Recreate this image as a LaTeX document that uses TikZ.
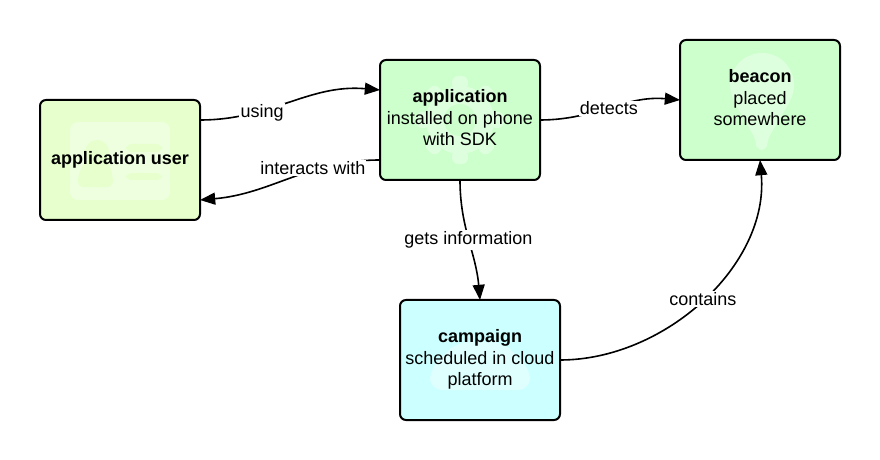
\documentclass[tikz,border=0pt]{standalone}
\usepackage{fontspec}
\setmainfont{Liberation Sans}
\usetikzlibrary{positioning, arrows.meta, calc}

\definecolor{usergreen}{HTML}{E6FFCC}
\definecolor{appgreen}{HTML}{CCFFCC}
\definecolor{cloudblue}{HTML}{CCFFFF}
\definecolor{userpale}{HTML}{EEFFDF}
\definecolor{apppale}{HTML}{DDFFDD}
\definecolor{cloudpale}{HTML}{DFFFFF}
\newcommand{\lastline}{\rule[-2.9pt]{0pt}{0pt}}

\tikzset{
    box/.style={draw=black, line width=0.05cm, rounded corners=0.15cm, minimum width=4cm, minimum height=3cm, inner sep=0pt, outer sep=0pt, align=center, font=\fontsize{12.8}{15.3}\selectfont},
    lbl/.style={fill=white, inner sep=0.03cm, font=\fontsize{12.8}{14}\selectfont},
    usericon/.style={path picture={
        \coordinate (ctr) at (path picture bounding box.center);
        \fill[userpale, rounded corners=0.2cm] ($(ctr)+(-1.25,0.95)$) rectangle ($(ctr)+(1.25,-1)$);
        \fill[usergreen] ($(ctr)+(-0.575,0.2)$) circle (0.3);
        \fill[usergreen] ($(ctr)+(-1.05,-0.68)$) to[out=90,in=200] ($(ctr)+(-0.575,0.1)$) to[out=-20,in=90] ($(ctr)+(-0.18,-0.68)$) -- cycle;
        \fill[usergreen] ($(ctr)+(0.15,0.4)$) rectangle ($(ctr)+(1.05,0.2)$);
        \fill[usergreen] ($(ctr)+(0.15,-0.33)$) rectangle ($(ctr)+(1.05,-0.5)$);
    }},
    appicon/.style={path picture={
        \coordinate (ctr) at (path picture bounding box.center);
        \fill[apppale] (ctr) circle (0.85);
        \foreach \a in {0,45,...,315}
            \fill[apppale] ($(ctr)+(\a-15:0.8)$) -- ($(ctr)+(\a-10:1.12)$) -- ($(ctr)+(\a+10:1.12)$) -- ($(ctr)+(\a+15:0.8)$) -- cycle;
        \fill[appgreen] (ctr) circle (0.4);
    }},
    beaconicon/.style={path picture={
        \coordinate (ctr) at (path picture bounding box.center);
        \fill[apppale] ($(ctr)+(0.05,0.375)$) circle (0.8);
        \fill[apppale] ($(ctr)+(-0.7,0.05)$) -- ($(ctr)+(-0.1,-1)$) arc (180:360:0.14 and 0.25) -- ($(ctr)+(0.8,0.05)$) -- cycle;
    }},
    cloudicon/.style={path picture={
        \coordinate (ctr) at (path picture bounding box.center);
        \fill[cloudpale, rounded corners=0.3cm] ($(ctr)+(-1.25,-0.75)$) -- ($(ctr)+(-1.25,-0.2)$) -- ($(ctr)+(-0.9,0.1)$) -- ($(ctr)+(-0.6,0.45)$) -- ($(ctr)+(0.6,0.45)$) -- ($(ctr)+(0.9,0.1)$) -- ($(ctr)+(1.25,-0.2)$) -- ($(ctr)+(1.25,-0.75)$) -- cycle;
    }}
}

\begin{document}
\begin{tikzpicture}[>={Triangle[length=0.38cm, width=0.3cm]}, line width=0.04cm, on grid]
    \useasboundingbox (0,0) rectangle (22,-11.5);

    \node[box, fill=usergreen, usericon] (user) at (3,-4) {\textbf{application user}};
    \node[box, fill=appgreen, appicon] (app) [above right=1cm and 8.5cm of user] {\textbf{application}\\installed on phone\\with SDK\lastline};
    \node[box, fill=appgreen, beaconicon] (beacon) [above right=0.5cm and 7.5cm of app] {\textbf{beacon}\\placed\\somewhere\lastline};
    \node[box, fill=cloudblue, cloudicon] (campaign) [below right=6cm and 0.5cm of app] {\textbf{campaign}\\scheduled in cloud\\platform\lastline};

    \path[->]
    ([yshift=1cm]user.east) edge[out=0, in=175] node[lbl, pos=0.33, yshift=-0.05cm] {using} ([yshift=0.75cm]app.west)
    ([yshift=-1cm]app.west) edge[out=180, in=5] node[lbl, pos=0.36, yshift=0.05cm] {interacts with} ([yshift=-1cm]user.east)
    (app.east) edge[out=0, in=175] node[lbl, pos=0.49] {detects} (beacon.west)
    (app.south) edge[out=-90, in=95] node[lbl, pos=0.5] {gets information} (campaign.north)
    (campaign.east) edge[out=0, in=-85, looseness=0.95] node[lbl, pos=0.5] {contains} (beacon.south);
\end{tikzpicture}
\end{document}
